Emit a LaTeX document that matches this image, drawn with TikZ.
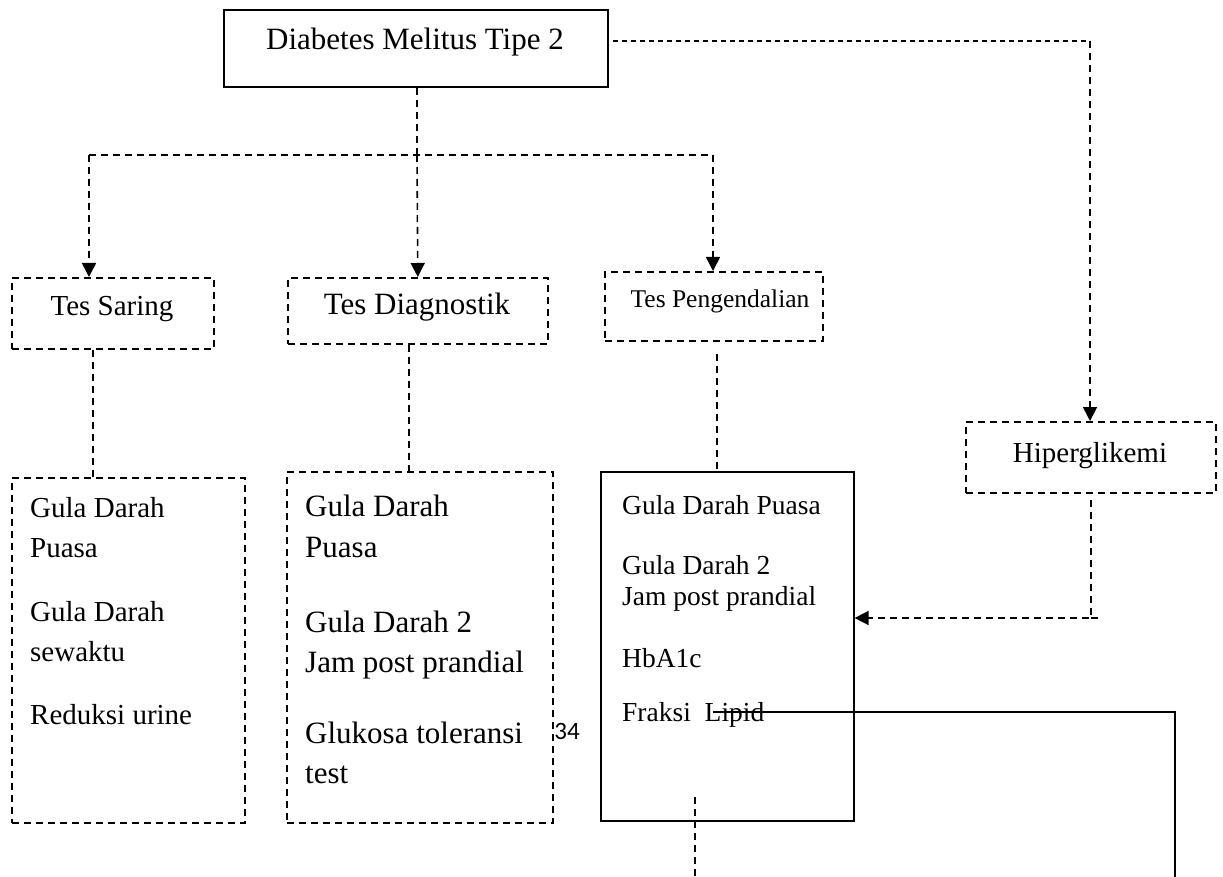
\documentclass[tikz,border=0pt]{standalone}
\usepackage{fontspec}
\setmainfont{Liberation Serif}
\newfontfamily\pgnumfont{Carlito}
\usetikzlibrary{arrows.meta}
\begin{document}
\begin{tikzpicture}[x=1pt,y=-1pt,
  dline/.style={line width=1.6pt, dash pattern=on 7pt off 5pt},
  fline/.style={line width=1.3pt, dash pattern=on 5pt off 4pt},
  sline/.style={line width=1.4pt},
  arr/.style={-{Triangle[width=14pt,length=14pt]}},
  box/.style={draw, line width=1.6pt, inner sep=0pt, anchor=north west},
  dbox/.style={box, dash pattern=on 7pt off 5pt},
  txt/.style={anchor=base west, inner sep=0pt},
  fA/.style={font=\fontsize{31}{37}\selectfont},
  fB/.style={font=\fontsize{29}{35}\selectfont},
  fC/.style={font=\fontsize{25.5}{30}\selectfont},
  fD/.style={font=\fontsize{27.5}{33}\selectfont},
  fE/.style={font=\fontsize{29}{35}\selectfont},
]
\useasboundingbox (0,0) rectangle (1223,877);

% top box
\node[box, minimum width=384pt, minimum height=77pt] (dm) at (223,9) {};
\node[fA] (dmt) at (415,42) {Diabetes Melitus Tipe 2};

% second row boxes
\node[dbox, minimum width=202pt, minimum height=71pt] (ts) at (11,277) {};
\node[fB] (tst) at (112,309) {Tes Saring};
\node[dbox, minimum width=260pt, minimum height=66pt] (td) at (287,277) {};
\node[fA] (tdt) at (417,307) {Tes Diagnostik};
\node[dbox, minimum width=218pt, minimum height=69pt] (tp) at (604,271) {};
\node[fC] (tpt) at (720,301) {Tes Pengendalian};
\node[dbox, minimum width=250pt, minimum height=71pt] (hg) at (965,421) {};
\node[fE] (hgt) at (1090,456) {Hiperglikemi};

% list boxes
\node[dbox, minimum width=233pt, minimum height=345pt] (l1) at (11,477) {};
\node[dbox, minimum width=266pt, minimum height=351pt] (l2) at (286,471) {};
\node[box, minimum width=253pt, minimum height=349pt] (l3) at (600,471) {};

% list 1 texts
\node[txt, fB] (a1) at (30,517) {Gula Darah};
\node[txt, fB] (a2) at (30,557) {Puasa};
\node[txt, fB] (a3) at (30,621) {Gula Darah};
\node[txt, fB] (a4) at (30,661) {sewaktu};
\node[txt, fB] (a5) at (30,724) {Reduksi urine};

% list 2 texts
\node[txt, fA] (b1) at (305,516) {Gula Darah};
\node[txt, fA] (b2) at (305,557) {Puasa};
\node[txt, fA] (b3) at (305,632) {Gula Darah 2};
\node[txt, fA] (b4) at (305,672) {Jam post prandial};
\node[txt, fA] (b5) at (305,743) {Glukosa toleransi};
\node[txt, fA] (b6) at (305,783) {test};

% list 3 texts
\node[txt, fD] (c1t) at (622,514) {Gula Darah Puasa};
\node[txt, fD] (c2t) at (622,574) {Gula Darah 2};
\node[txt, fD] (c3t) at (622,605) {Jam post prandial};
\node[txt, fD] (c4t) at (622,667) {HbA1c};
\node[txt, fD] (c5t) at (622,721) {Fraksi\ \ Lipid};

% page number
\node[font=\pgnumfont\fontsize{25}{29}\selectfont, inner sep=0pt] (pg) at (567,731) {34};

% connectors from top
\coordinate (bar) at (417,155);
\coordinate (bl) at (89,155);
\coordinate (br) at (713,155);
\draw[dline] (dm.south -| bar) -- (bar);
\draw[dline] (bl) -- (br);
\draw[dline, arr] (bl) -- (bl |- ts.north);
\draw[dline, arr] (bar) -- (td.north);
\draw[dline, arr] (br) -- (br |- tp.north);

\coordinate (r0) at (613,41);
\coordinate (r1) at (1090,41);
\draw[fline] (r0) -- (r1);
\draw[dline, arr] (r1) -- (r1 |- hg.north);

% connectors to lists
\coordinate (k1) at (93,0);
\coordinate (k2) at (409,0);
\coordinate (k3) at (717,0);
\draw[dline] (ts.south -| k1) -- (l1.north -| k1);
\draw[dline] (td.south -| k2) -- (l2.north -| k2);
\draw[dline, shorten <=12pt] (tp.south -| k3) -- (l3.north -| k3);

% hiperglikemi to list 3
\coordinate (h1) at (1091,618);
\coordinate (h2) at (1098,618);
\draw[dline, arr, shorten <=6pt] (hg.south -| h1) -- (h1) -- (l3.east |- h1);
\draw[dline] (h1) -- (h2);

% lipid line
\coordinate (lp) at (713,712);
\coordinate (lr) at (1175,712);
\coordinate (lb) at (1175,877);
\draw[sline] (lp) -- (lr) -- (lb);

% bottom dashed
\coordinate (d0) at (695,797);
\coordinate (d1) at (695,877);
\draw[dline] (d0) -- (d1);
\end{tikzpicture}
\end{document}
